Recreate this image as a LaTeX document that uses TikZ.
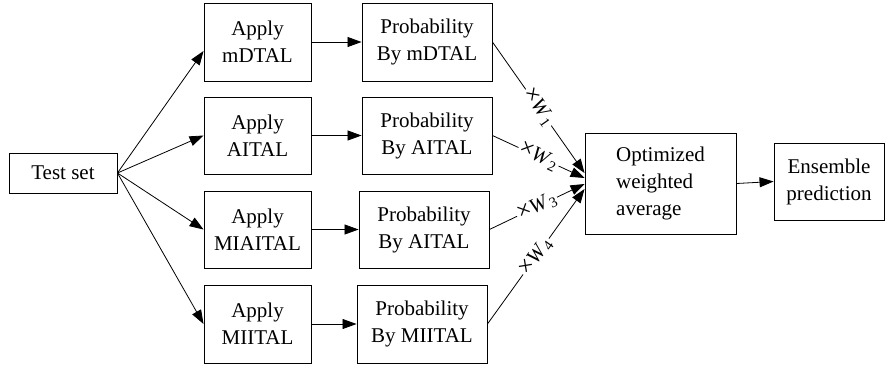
\documentclass[tikz,border=0pt]{standalone}
\usepackage{fontspec}
\setmainfont{Liberation Serif}
\usetikzlibrary{arrows.meta}
\newcommand{\wt}[1]{{\fontsize{25}{22}\selectfont ×}\kern-0.5pt\textit{W}\kern0.5pt\textsubscript{#1}}
\begin{document}
\begin{tikzpicture}[x=1pt,y=-1pt,
  box/.style={draw, line width=0.9pt, rectangle, inner sep=0pt,
    font=\fontsize{21}{27}\selectfont, align=center},
  link/.style={line width=0.8pt, -{Triangle[length=14pt,width=10pt]}},
  wlab/.style={midway, sloped, fill=white, inner sep=1.5pt,
    font=\fontsize{21}{22}\selectfont}]
\useasboundingbox (0,0) rectangle (894,368);

% input
\node[box, minimum width=108pt, minimum height=40pt] (t) at (63,173) {Test set};

% learners
\node[box, minimum width=107pt, minimum height=78pt] (a1) at (257.5,42) {Apply\\mDTAL};
\node[box, minimum width=107pt, minimum height=77pt] (a2) at (257.5,135.5) {Apply\\AITAL};
\node[box, minimum width=107pt, minimum height=77pt] (a3) at (257.5,229.5) {Apply\\MIAITAL};
\node[box, minimum width=107pt, minimum height=78pt] (a4) at (257.5,324) {Apply\\MIITAL};

% probabilities
\node[box, minimum width=130pt, minimum height=78pt] (p1) at (427,42) {Probability\\By mDTAL};
\node[box, minimum width=130pt, minimum height=77pt] (p2) at (427,135.5) {Probability\\By AITAL};
\node[box, minimum width=130pt, minimum height=77pt] (p3) at (424,229.5) {Probability\\By AITAL};
\node[box, minimum width=130pt, minimum height=78pt] (p4) at (422,324) {Probability\\By MIITAL};

% combination
\node[box, minimum width=151pt, minimum height=101pt, align=left] (o) at (660.5,183.5)
  {Optimized\\weighted\\average};
\node[box, minimum width=110pt, minimum height=77pt] (e) at (829,181.5) {Ensemble\\prediction};

% test set to learners
\draw[link] (t.east) -- ([yshift=-9pt]a1.west);
\draw[link] (t.east) -- (a2.west);
\draw[link] (t.east) -- (a3.west);
\draw[link] (t.east) -- (a4.west);

% learners to probabilities
\draw[link] (a1.east) -- (p1.west);
\draw[link] (a2.east) -- (p2.west);
\draw[link] (a3.east) -- (p3.west);
\draw[link] (a4.east) -- (p4.west);

% weighted links
\draw[link] (p1.east) -- node[wlab] {\wt{1}} ([yshift=10.5pt]o.west);
\draw[link] (p2.east) -- node[wlab] {\wt{2}} ([yshift=5.5pt]o.west);
\draw[link] (p3.east) -- node[wlab] {\wt{3}} ([yshift=-0.5pt]o.west);
\draw[link] (p4.east) -- node[wlab] {\wt{4}} ([yshift=-5.5pt]o.west);

\draw[link] (o.east) -- (e.west);
\end{tikzpicture}
\end{document}
